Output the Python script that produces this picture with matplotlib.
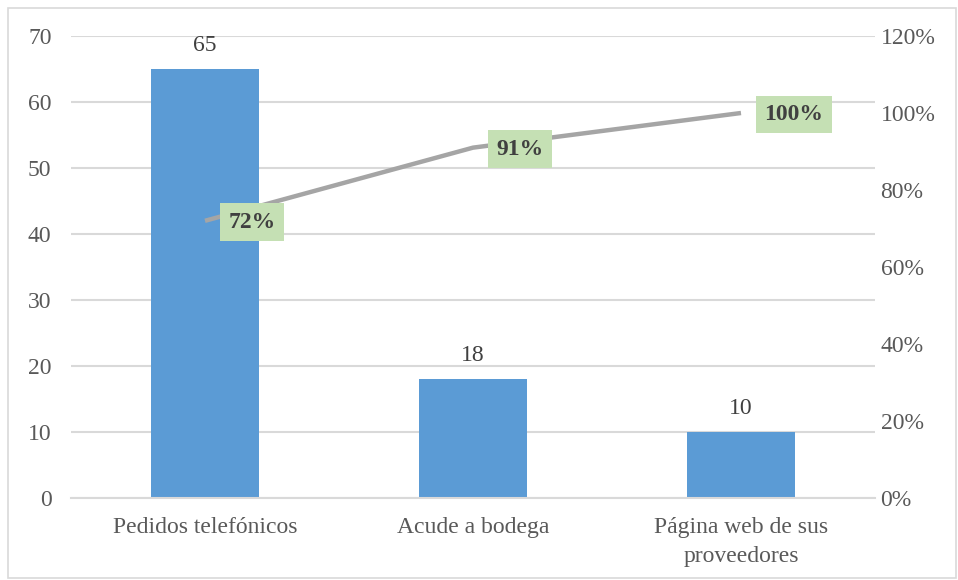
import matplotlib.pyplot as plt
from matplotlib.patches import Rectangle
from matplotlib.ticker import PercentFormatter

# -- data --
categorias = ['Pedidos telefónicos', 'Acude a bodega', 'Página web de sus\nproveedores']
frecuencia = [65, 18, 10]
acumulado = [72, 91, 100]

plt.rcParams['font.family'] = ['Liberation Serif', 'DejaVu Serif']
FS = 17

fig = plt.figure(figsize=(9.58, 5.8), dpi=100)
ax = fig.add_axes([71/958, 1-498/580, 804/958, 462/580])
ax2 = ax.twinx()

x = range(len(categorias))

# -- barras --
ax.bar(x, frecuencia, width=0.4, color='#5B9BD5', zorder=2)
for xi, v in zip(x, frecuencia):
    ax.text(xi, v + 2.0, str(v), ha='center', va='bottom', fontsize=FS, color='#404040')

ax.set_xlim(-0.5, 2.5)
ax.set_ylim(0, 70)
ax.set_yticks(range(0, 71, 10))
ax.yaxis.grid(True, color='#D9D9D9', linewidth=1.5, zorder=0)
ax.set_axisbelow(True)
ax.set_xticks(list(x))
ax.set_xticklabels(categorias, fontsize=FS, color='#595959', linespacing=1.45)
ax.tick_params(axis='both', length=0, labelsize=FS, labelcolor='#595959')
ax.tick_params(axis='x', pad=14)
ax.tick_params(axis='y', pad=14)
for s in ax.spines.values():
    s.set_visible(False)
ax.spines['bottom'].set_visible(True)
ax.spines['bottom'].set_color('#D9D9D9')
ax.spines['bottom'].set_linewidth(1.5)

# -- linea acumulada --
ax2.plot(x, acumulado, color='#A5A5A5', linewidth=3.2, solid_capstyle='butt', zorder=3)
for xi, v in zip(x, acumulado):
    ax2.annotate(f'{v}%', (xi, v), xytext=(17, -1), textcoords='offset points',
                 ha='left', va='center', fontsize=FS, fontweight='bold', color='#404040',
                 bbox=dict(boxstyle='square,pad=0.35', facecolor='#C5E0B4', edgecolor='none'))
ax2.set_ylim(0, 120)
ax2.set_yticks(range(0, 121, 20))
ax2.yaxis.set_major_formatter(PercentFormatter(decimals=0))
ax2.tick_params(axis='y', length=0, labelsize=FS, labelcolor='#595959', pad=4)
for s in ax2.spines.values():
    s.set_visible(False)

# marco
fig.patches.append(Rectangle((8/958, 2/580), 948/958, 570/580, transform=fig.transFigure,
                             fill=False, edgecolor='#D9D9D9', linewidth=1.2))

fig.savefig('out.png', dpi=100)
